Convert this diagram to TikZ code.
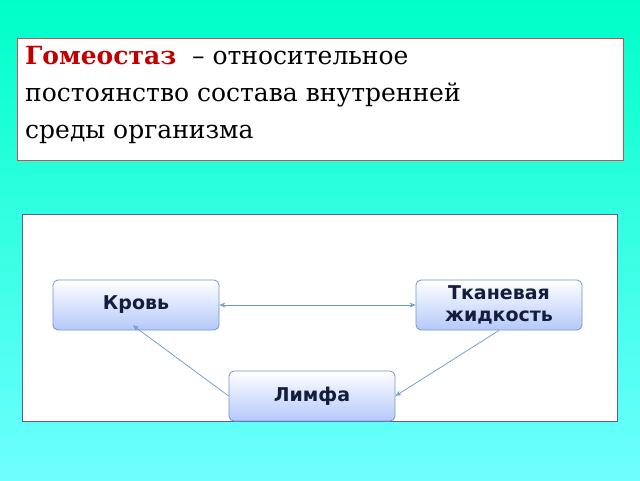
\documentclass[tikz,border=0pt]{standalone}
\usepackage{fontspec}
\setmainfont{DejaVu Serif}
\newfontfamily\nodefont{DejaVu Sans}
\usetikzlibrary{arrows.meta}
\definecolor{bgA}{RGB}{0,255,200}
\definecolor{bgB}{RGB}{110,255,255}
\definecolor{titlered}{RGB}{192,0,0}
\definecolor{navy}{RGB}{20,30,60}
\definecolor{nodeblue}{RGB}{180,200,250}
\definecolor{edgeblue}{RGB}{110,150,200}
\tikzset{
  box/.style={draw=edgeblue, line width=0.8pt, rounded corners=5pt, top color=white, bottom color=nodeblue,
    minimum width=166pt, minimum height=50pt, font=\nodefont\bfseries\fontsize{19}{22}\selectfont,
    text=navy, align=center, inner sep=2pt},
  link/.style={draw=edgeblue, line width=0.7pt, -{Stealth[open,length=6pt,width=5pt]}}
}
\begin{document}
\begin{tikzpicture}[x=1pt,y=-1pt]
\useasboundingbox (0,0) rectangle (640,480);
\shade[left color=bgA, right color=bgB, shading angle=0] (0,0) rectangle (640,480);
\node[draw=titlered!70, line width=1pt, fill=white, minimum width=606pt, minimum height=122pt, anchor=north west, inner sep=0pt] (title) at (17,38) {};
\node[anchor=north west, align=left, font=\fontsize{25}{37}\selectfont, inner sep=0pt] (ttext) at (25,46)
  {\textcolor{titlered}{\textbf{Гомеостаз}} \ – относительное\\постоянство состава внутренней\\среды организма};
\node[draw=gray!70!blue, line width=1pt, fill=white, minimum width=595pt, minimum height=207pt, anchor=north west, inner sep=0pt] (panel) at (22,214) {};
\node[box] (krov) at (136,305) {Кровь};
\node[box] (tkan) at (499,305) {Тканевая\\жидкость};
\node[box] (limf) at (312,396) {Лимфа};
\draw[link,{Stealth[open,length=6pt,width=5pt]}-{Stealth[open,length=6pt,width=5pt]}] (krov.east) -- (tkan.west);
\draw[link] (tkan.south) -- (limf.east);
\draw[link] (limf.west) -- ([xshift=-3pt,yshift=5pt]krov.south);
\end{tikzpicture}
\end{document}
